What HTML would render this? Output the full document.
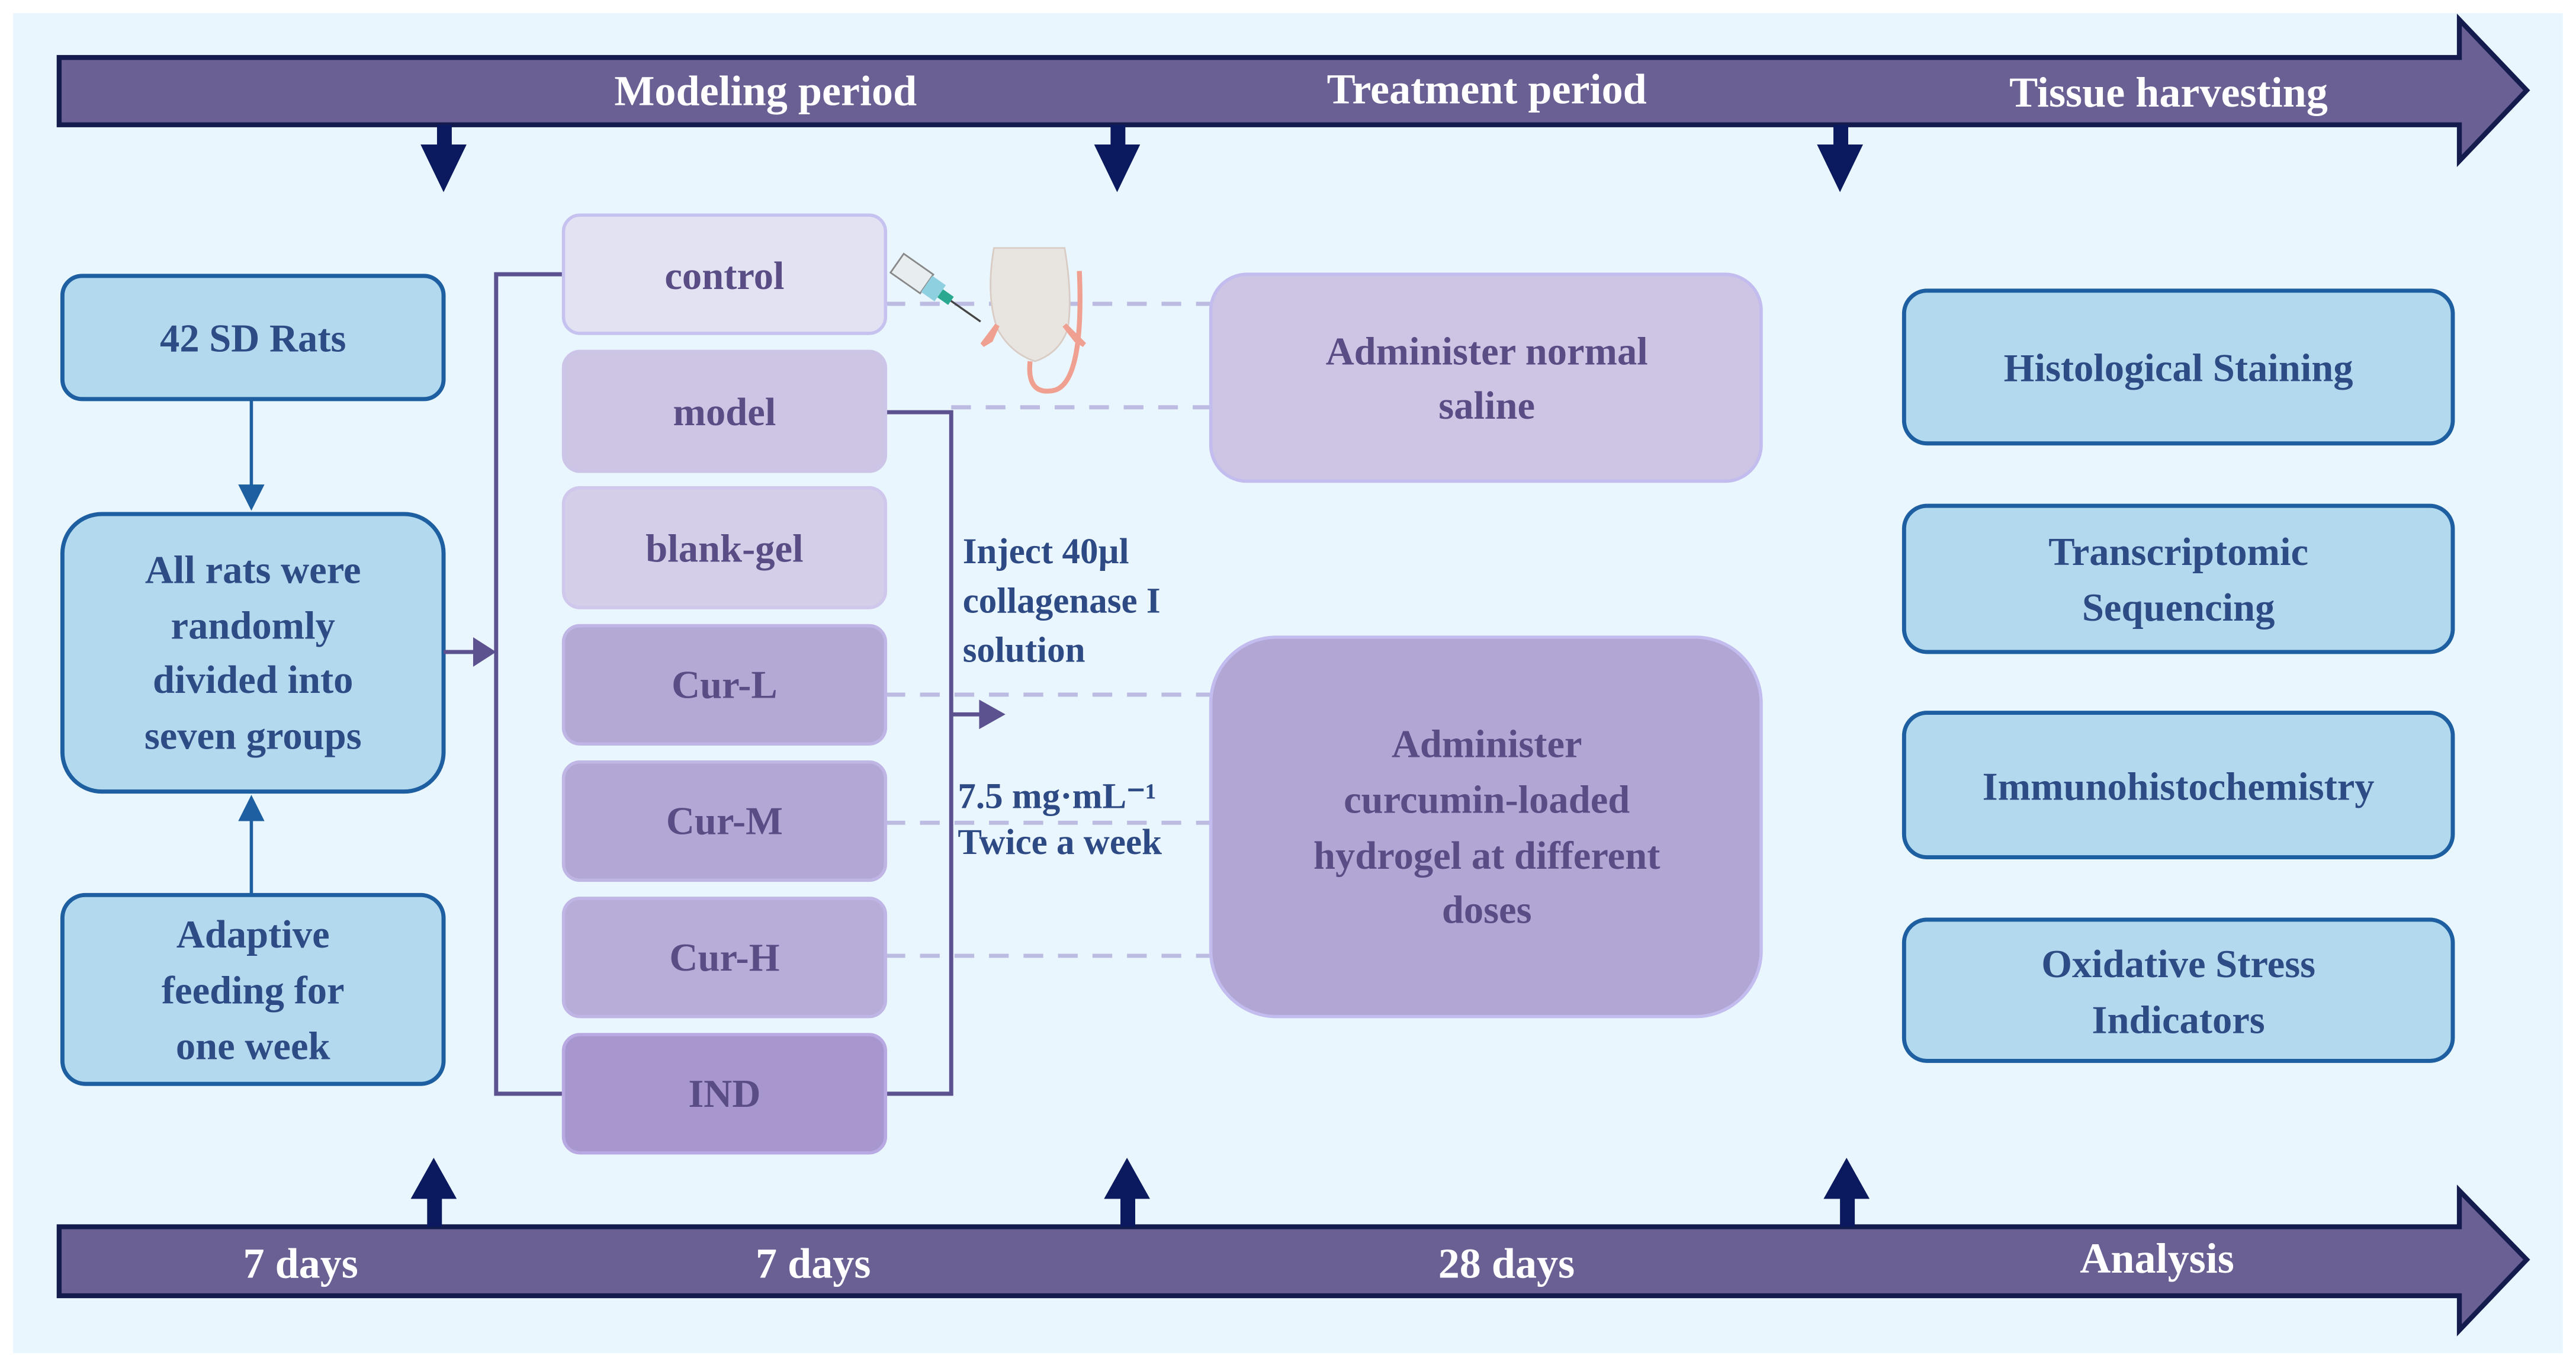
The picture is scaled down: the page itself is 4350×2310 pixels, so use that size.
<!DOCTYPE html>
<html><head><meta charset="utf-8"><style>
html,body{margin:0;padding:0;background:#fff;width:4350px;height:2310px;overflow:hidden}
svg{display:block}
text{font-family:"Liberation Serif",serif;font-weight:bold}
</style></head><body>
<svg width="4350" height="2310" viewBox="0 0 1568 833" preserveAspectRatio="none" xmlns="http://www.w3.org/2000/svg">
<rect x="0" y="0" width="1568" height="833" fill="#ffffff"/>
<rect x="8" y="8" width="1552" height="816" fill="#eaf6fd"/>

<!-- top bar -->
<polygon points="36,35 1497,35 1497,12 1538,55 1497,98 1497,76 36,76" fill="#6a6094" stroke="#141c4e" stroke-width="3"/>
<g fill="#fff" font-size="26" text-anchor="middle">
<text x="466" y="64">Modeling period</text>
<text x="905" y="63">Treatment period</text>
<text x="1320" y="65">Tissue harvesting</text>
</g>
<!-- down arrows -->
<g fill="#0b1a5e">
<rect x="266" y="76" width="9" height="14"/><polygon points="256,88 284,88 270,117"/>
<rect x="676" y="76" width="9" height="14"/><polygon points="666,88 694,88 680,117"/>
<rect x="1116" y="76" width="9" height="14"/><polygon points="1106,88 1134,88 1120,117"/>
</g>

<!-- bottom bar -->
<polygon points="36,747 1497,747 1497,725 1538,767 1497,810 1497,789 36,789" fill="#6a6094" stroke="#141c4e" stroke-width="3"/>
<g fill="#fff" font-size="26" text-anchor="middle">
<text x="183" y="778">7 days</text>
<text x="495" y="778">7 days</text>
<text x="917" y="778">28 days</text>
<text x="1313" y="775">Analysis</text>
</g>
<g fill="#0b1a5e">
<rect x="260" y="728" width="9" height="19"/><polygon points="250,730 278,730 264,705"/>
<rect x="682" y="728" width="9" height="19"/><polygon points="672,730 700,730 686,705"/>
<rect x="1120" y="728" width="9" height="19"/><polygon points="1110,730 1138,730 1124,705"/>
</g>

<!-- left boxes -->
<g fill="#b2d9ed" stroke="#1d5fa0" stroke-width="2.5">
<rect x="38" y="168" width="232" height="75" rx="12"/>
<rect x="38" y="313" width="232" height="169" rx="24"/>
<rect x="38" y="545" width="232" height="115" rx="14"/>
</g>
<g fill="#2d4b84" font-size="24" text-anchor="middle">
<text x="154" y="214">42 SD Rats</text>
<text x="154" y="355">All rats were</text>
<text x="154" y="389">randomly</text>
<text x="154" y="422">divided into</text>
<text x="154" y="456">seven groups</text>
<text x="154" y="577">Adaptive</text>
<text x="154" y="611">feeding for</text>
<text x="154" y="645">one week</text>
</g>
<g stroke="#1d5fa0" stroke-width="2" fill="#1d5fa0">
<line x1="153" y1="243" x2="153" y2="298"/><polygon points="145,295 161,295 153,311" stroke="none"/>
<line x1="153" y1="545" x2="153" y2="498"/><polygon points="145,500 161,500 153,484" stroke="none"/>
</g>

<!-- left bracket -->
<g stroke="#5c5290" stroke-width="2.5" fill="none">
<line x1="270" y1="397" x2="292" y2="397"/>
<polyline points="343,167 302,167 302,666 343,666"/>
<polyline points="539,251 579,251 579,666 539,666"/>
<line x1="579" y1="435" x2="600" y2="435"/>
</g>
<polygon points="288,388 302,397 288,406" fill="#5c5290"/>
<polygon points="596,426 612,435 596,444" fill="#5c5290"/>

<!-- dashed lines -->
<g stroke="#bcbce2" stroke-width="2.5" stroke-dasharray="12,9">
<line x1="539" y1="185" x2="737" y2="185"/>
<line x1="579" y1="248" x2="737" y2="248"/>
<line x1="539" y1="423" x2="737" y2="423"/>
<line x1="539" y1="501" x2="737" y2="501"/>
<line x1="539" y1="582" x2="737" y2="582"/>
</g>

<!-- group boxes -->
<g stroke-width="2">
<rect x="343" y="131" width="196" height="72" rx="10" fill="#e2e2f2" stroke="#c6c2f0"/>
<rect x="343" y="214" width="196" height="73" rx="10" fill="#cdc5e3" stroke="#cdc5e8"/>
<rect x="343" y="297" width="196" height="73" rx="10" fill="#d5cee8" stroke="#d0c8ec"/>
<rect x="343" y="381" width="196" height="72" rx="10" fill="#b4a8d5" stroke="#c0b6e6"/>
<rect x="343" y="464" width="196" height="72" rx="10" fill="#b3a7d5" stroke="#c0b6e6"/>
<rect x="343" y="547" width="196" height="72" rx="10" fill="#b8acd8" stroke="#c0b6e6"/>
<rect x="343" y="630" width="196" height="72" rx="10" fill="#a897cf" stroke="#b8a9e2"/>
</g>
<g fill="#5a4d85" font-size="24" text-anchor="middle">
<text x="441" y="176">control</text>
<text x="441" y="259">model</text>
<text x="441" y="342">blank-gel</text>
<text x="441" y="425">Cur-L</text>
<text x="441" y="508">Cur-M</text>
<text x="441" y="591">Cur-H</text>
<text x="441" y="674">IND</text>
</g>

<!-- injection text -->
<g fill="#2e4a85" font-size="22">
<text x="586" y="343">Inject 40µl</text>
<text x="586" y="373">collagenase I</text>
<text x="586" y="403">solution</text>
<text x="583" y="492">7.5 mg·mL⁻¹</text>
<text x="583" y="520">Twice a week</text>
</g>

<!-- syringe & rat -->
<g>
<g transform="rotate(35 560 170)">
<rect x="543" y="163" width="22" height="14" fill="#e8eef0" stroke="#888" stroke-width="1"/>
<rect x="565" y="164" width="10" height="12" fill="#8fd0e0"/>
<rect x="575" y="167" width="8" height="6" fill="#2aa890"/>
<line x1="583" y1="170" x2="605" y2="170" stroke="#444" stroke-width="1.2"/>
</g>
<path d="M605,151 L648,151 Q653,180 650,200 Q645,215 630,220 Q615,215 607,200 Q600,180 605,151 Z" fill="#e8e4e0" stroke="#d8ccc4" stroke-width="1"/>
<path d="M607,198 L598,210 L603,207 Z" fill="#f0a090" stroke="#f0a090" stroke-width="3"/>
<path d="M648,198 L660,210 L655,207 Z" fill="#f0a090" stroke="#f0a090" stroke-width="3"/>
<path d="M627,220 Q625,240 640,238 Q660,236 657,165" fill="none" stroke="#f0a090" stroke-width="3"/>
</g>

<!-- treatment boxes -->
<rect x="737" y="167" width="335" height="126" rx="22" fill="#cdc5e3" stroke="#c3bcee" stroke-width="2"/>
<rect x="737" y="388" width="335" height="231" rx="40" fill="#b2a6d5" stroke="#c3bcee" stroke-width="2"/>
<g fill="#5a4d85" font-size="24" text-anchor="middle">
<text x="905" y="222">Administer normal</text>
<text x="905" y="255">saline</text>
<text x="905" y="461">Administer</text>
<text x="905" y="495">curcumin-loaded</text>
<text x="905" y="529">hydrogel at different</text>
<text x="905" y="562">doses</text>
</g>

<!-- analysis boxes -->
<g fill="#b2d9ed" stroke="#1d5fa0" stroke-width="2.5">
<rect x="1159" y="177" width="334" height="93" rx="14"/>
<rect x="1159" y="308" width="334" height="89" rx="14"/>
<rect x="1159" y="434" width="334" height="88" rx="14"/>
<rect x="1159" y="560" width="334" height="86" rx="14"/>
</g>
<g fill="#2d4b84" font-size="24" text-anchor="middle">
<text x="1326" y="232">Histological Staining</text>
<text x="1326" y="344">Transcriptomic</text>
<text x="1326" y="378">Sequencing</text>
<text x="1326" y="487">Immunohistochemistry</text>
<text x="1326" y="595">Oxidative Stress</text>
<text x="1326" y="629">Indicators</text>
</g>
</svg>
</body></html>
